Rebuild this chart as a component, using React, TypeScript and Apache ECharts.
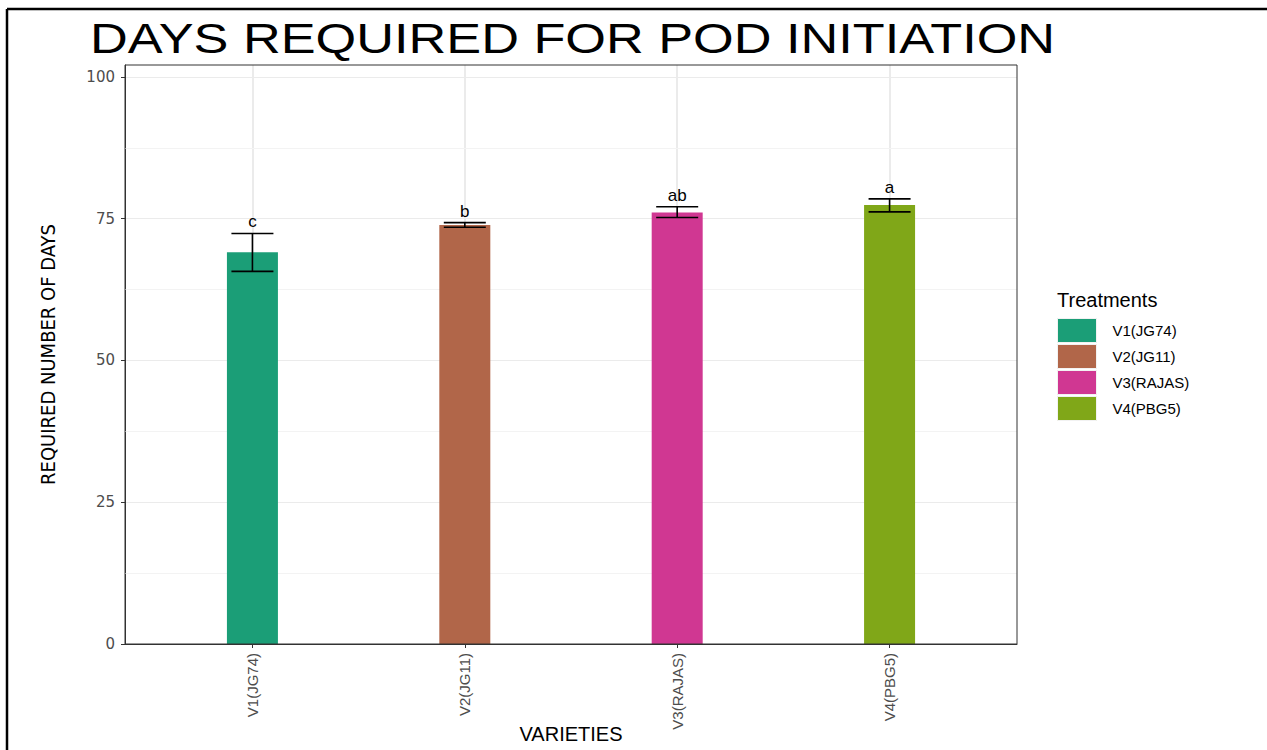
import React, { useEffect, useRef } from "react";
import * as echarts from "echarts";

const titleText = "DAYS REQUIRED FOR POD INITIATION";
const categories = ["V1(JG74)", "V2(JG11)", "V3(RAJAS)", "V4(PBG5)"];
const means = [69.1, 73.9, 76.1, 77.4];
const errLow = [65.7, 73.5, 75.2, 76.2];
const errHigh = [72.4, 74.3, 77.1, 78.5];
const letters = ["c", "b", "ab", "a"];
const colors = ["#1B9E77", "#B16649", "#D03792", "#80A718"];
const yTicks = [0, 25, 50, 75, 100];
const yMinor = [12.5, 37.5, 62.5, 87.5];
const xPositions = categories.map((_, i) => i + 1);

const FONT = "'Liberation Sans', Arial, sans-serif";

export default function App() {
  const ref = useRef<HTMLDivElement>(null);
  useEffect(() => {
    if (!ref.current) return;
    const chart = echarts.init(ref.current, undefined, { renderer: "svg" });

    const barSeries = categories.map((name, i) => ({
      name,
      type: "bar",
      barWidth: 51,
      barGap: "-100%",
      xAxisIndex: 0,
      yAxisIndex: 0,
      z: 2,
      itemStyle: { color: colors[i] },
      data: [[xPositions[i], means[i]]],
    }));

    const option: any = {
      animation: false,
      backgroundColor: "#ffffff",
      textStyle: { fontFamily: FONT },
      title: [
        {
          text: "Treatments",
          left: 1057,
          top: 290,
          padding: 0,
          textStyle: { fontSize: 20, fontWeight: "normal", color: "#000", fontFamily: FONT },
        },
      ],
      legend: {
        orient: "vertical",
        left: 1057,
        top: 318,
        padding: 0,
        itemWidth: 39,
        itemHeight: 24,
        itemGap: 1,
        icon: "rect",
        data: categories,
        itemStyle: { borderColor: "#f2f2f2", borderWidth: 1 },
        textStyle: { fontSize: 15, color: "#000", fontFamily: FONT, padding: [0, 0, 0, 11] },
      },
      grid: {
        left: 125,
        right: 250,
        top: 65,
        bottom: 106,
        containLabel: false,
        outerBoundsMode: "none",
      },
      xAxis: {
        type: "value",
        min: 0.4,
        max: 4.6,
        name: "VARIETIES",
        nameLocation: "middle",
        nameGap: 80,
        nameMoveOverlap: false,
        nameTextStyle: { fontSize: 20, color: "#000", fontFamily: FONT },
        axisLine: { show: true, onZero: false, lineStyle: { color: "#333333", width: 1 } },
        axisTick: { show: true, customValues: xPositions, length: 4, lineStyle: { color: "#333333" } },
        axisLabel: {
          customValues: xPositions,
          rotate: 90,
          margin: 9,
          fontSize: 15,
          color: "#4d4d4d",
          fontFamily: FONT,
          formatter: (v: number) => categories[Math.round(v) - 1] ?? "",
        },
        splitLine: { show: true, lineStyle: { color: "#ebebeb", width: 2 } },
      },
      yAxis: {
        type: "value",
        min: 0,
        max: 102.1,
        name: "REQUIRED NUMBER OF DAYS",
        nameLocation: "middle",
        nameRotate: 90,
        nameGap: 67,
        nameMoveOverlap: false,
        nameTextStyle: {
          fontSize: 20,
          color: "#000",
          fontFamily: "'Liberation Sans Narrow', 'DejaVu Sans Condensed', sans-serif",
        },
        axisLine: { show: true, onZero: false, lineStyle: { color: "#333333", width: 1 } },
        axisTick: { show: true, customValues: yTicks, length: 4, lineStyle: { color: "#333333" } },
        axisLabel: {
          customValues: yTicks,
          margin: 10,
          fontSize: 15,
          color: "#4d4d4d",
          fontFamily: "'DejaVu Sans', sans-serif",
        },
        splitLine: { show: true, lineStyle: { color: "#ebebeb", width: 1.2 } },
      },
      series: [
        {
          name: "minor-grid",
          type: "line",
          data: [],
          z: 1,
          silent: true,
          markLine: {
            silent: true,
            z: 1,
            symbol: "none",
            label: { show: false },
            lineStyle: { color: "#f3f3f3", width: 1, type: "solid" },
            data: yMinor.map((v) => ({ yAxis: v })),
          },
        },
        ...barSeries,
        {
          name: "errors",
          type: "custom",
          z: 5,
          data: categories.map((_, i) => [xPositions[i], errLow[i], errHigh[i]]),
          encode: { x: 0, y: [1, 2] },
          renderItem: (params: any, api: any) => {
            const x = api.value(0);
            const top = api.coord([x, api.value(2)]);
            const bot = api.coord([x, api.value(1)]);
            const hw = 21;
            const st = { stroke: "#000", lineWidth: 1.6 };
            return {
              type: "group",
              children: [
                { type: "line", shape: { x1: top[0], y1: top[1], x2: bot[0], y2: bot[1] }, style: st },
                { type: "line", shape: { x1: top[0] - hw, y1: top[1], x2: top[0] + hw, y2: top[1] }, style: st },
                { type: "line", shape: { x1: bot[0] - hw, y1: bot[1], x2: bot[0] + hw, y2: bot[1] }, style: st },
                {
                  type: "text",
                  x: top[0],
                  y: top[1] - 3,
                  style: {
                    text: letters[params.dataIndex],
                    align: "center",
                    verticalAlign: "bottom",
                    fontSize: 17,
                    fill: "#000",
                    fontFamily: FONT,
                  },
                },
              ],
            };
          },
        },
      ],
      graphic: [
        {
          type: "text",
          x: 90,
          y: 38,
          scaleX: 1.245,
          style: {
            text: titleText,
            fontSize: 42,
            fill: "#000",
            align: "left",
            verticalAlign: "middle",
            fontFamily: FONT,
          },
        },
        {
          type: "rect",
          shape: { x: 125, y: 65, width: 892, height: 579 },
          style: { fill: "none", stroke: "#333333", lineWidth: 1 },
          z: 100,
          silent: true,
        },
        {
          type: "line",
          shape: { x1: 7, y1: 9, x2: 1267, y2: 9 },
          style: { stroke: "#000", lineWidth: 2.5 },
          silent: true,
        },
        {
          type: "line",
          shape: { x1: 7, y1: 9, x2: 7, y2: 750 },
          style: { stroke: "#000", lineWidth: 2.5 },
          silent: true,
        },
      ],
    };

    chart.setOption(option);
    return () => chart.dispose();
  }, []);

  return (
    <div
      ref={ref}
      style={{ position: "fixed", left: 0, top: 0, width: 1267, height: 750, background: "#fff" }}
    />
  );
}
